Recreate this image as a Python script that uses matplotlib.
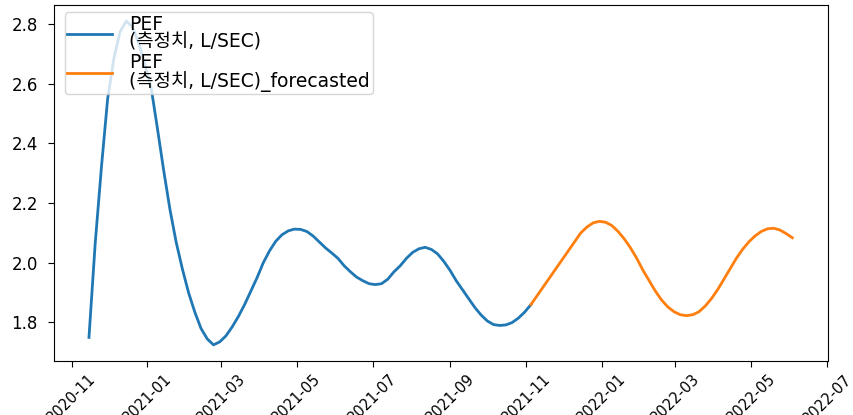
import numpy as np
import pandas as pd
import matplotlib
matplotlib.use("Agg")
import matplotlib.pyplot as plt
import matplotlib.dates as mdates

plt.rcParams['font.family'] = ['DejaVu Sans', 'Noto Sans CJK KR']

meas_dates = pd.date_range("2020-11-15", "2021-11-05", freq="5D")
meas_vals = [1.75, 2.065, 2.32, 2.55, 2.685, 2.775, 2.81, 2.79, 2.735, 2.665,
             2.585, 2.45, 2.31, 2.18, 2.07, 1.98, 1.90, 1.835, 1.78, 1.745,
             1.725, 1.735, 1.755, 1.785, 1.82, 1.86, 1.905, 1.95, 2.0, 2.04,
             2.072, 2.094, 2.107, 2.113, 2.112, 2.105, 2.09, 2.07, 2.05, 2.033,
             2.015, 1.99, 1.97, 1.952, 1.94, 1.93, 1.927, 1.93, 1.945, 1.97,
             1.99, 2.015, 2.035, 2.047, 2.052, 2.045, 2.03, 2.005, 1.975, 1.94,
             1.91, 1.88, 1.85, 1.825, 1.805, 1.793, 1.79, 1.792, 1.80, 1.815,
             1.835, 1.86]

# forecasted part
fc_dates = pd.date_range("2021-11-05", "2022-06-03", freq="5D")
fc_vals = [1.86, 1.89, 1.92, 1.95, 1.98, 2.01, 2.04, 2.07, 2.10, 2.12,
           2.134, 2.139, 2.136, 2.125, 2.105, 2.08, 2.05, 2.015, 1.975, 1.94,
           1.905, 1.875, 1.852, 1.836, 1.826, 1.823, 1.826, 1.836, 1.855, 1.88,
           1.91, 1.945, 1.98, 2.015, 2.045, 2.07, 2.09, 2.105, 2.114, 2.116,
           2.11, 2.098, 2.084]

label = "PEF\n(측정치, L/SEC)"

fig = plt.figure(figsize=(8.54, 4.15), dpi=100)
ax = fig.add_axes([0.063, 0.130, 0.906, 0.858])
ax.plot(meas_dates, meas_vals, color='tab:blue', lw=2, label=label)
ax.plot(fc_dates, fc_vals, color='tab:orange', lw=2, label=label + "_forecasted")

ax.set_yticks([1.8, 2.0, 2.2, 2.4, 2.6, 2.8])
ax.xaxis.set_major_locator(mdates.MonthLocator(bymonth=[1, 3, 5, 7, 9, 11]))
ax.xaxis.set_major_formatter(mdates.DateFormatter('%Y-%m'))
ax.tick_params(axis='y', labelsize=12, pad=7, length=4.5)
ax.tick_params(axis='x', labelsize=10.5, pad=3, length=4.5)
plt.setp(ax.get_xticklabels(), rotation=45)
leg = ax.legend(loc='upper left', bbox_to_anchor=(0.014, 0.98), borderaxespad=0,
                fontsize=13.5, handlelength=2.4, handletextpad=0.9,
                labelspacing=0.1, borderpad=0.15)
for t in leg.get_texts():
    t.set_linespacing(0.9)

fig.savefig("out.png", dpi=100)
